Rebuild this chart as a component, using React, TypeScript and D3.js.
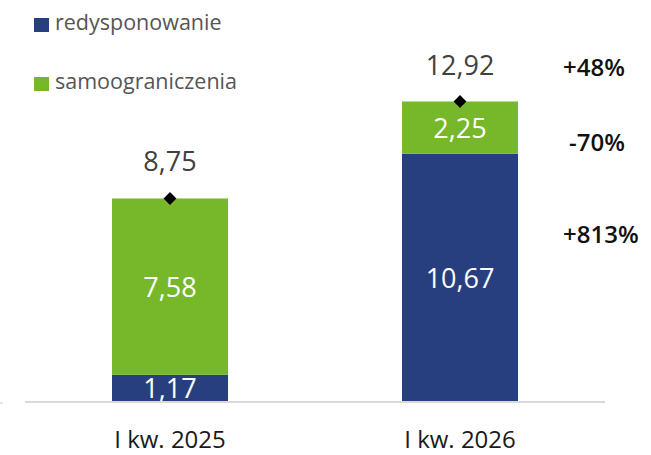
import React from "react";
import * as d3 from "d3";

const categories = ["I kw. 2025", "I kw. 2026"];
const redysponowanie = [1.17, 10.67];
const samoograniczenia = [7.58, 2.25];
const totals = [8.75, 12.92];
const seriesNames = ["redysponowanie", "samoograniczenia"];
const changeLabels = ["+48%", "-70%", "+813%"];

const W = 651, H = 455;
const BLUE = "#283F7F";
const GREEN = "#76B82A";
const FONT = "'Open Sans', 'Noto Sans', sans-serif";

export default function App() {
  const baseY = 402;
  const x = d3.scaleBand().domain(categories).range([25, 605]).paddingInner(0.6).paddingOuter(0.3);
  const y = d3.scaleLinear().domain([0, 12.92]).range([baseY, 101.5]);
  const fmt = (v: number) => v.toFixed(2).replace(".", ",");
  const bw = x.bandwidth();
  const changeY = [
    y(totals[1]) - 26,
    y(redysponowanie[1] + samoograniczenia[1] / 2) + 23,
    y(redysponowanie[1] / 2) - 35,
  ];
  const changeX = [563, 569, 563];
  return (
    <div style={{ position: "absolute", left: 0, top: 0, width: W, height: H }}>
      <svg width={W} height={H} style={{ display: "block" }} fontFamily={FONT}>
        <rect width={W} height={H} fill="#fff" />
        {seriesNames.map((n, i) => (
          <g key={n} transform={`translate(34, ${18 + i * 59})`}>
            <rect width={15} height={14} fill={i === 0 ? BLUE : GREEN} />
            <text x={21} y={12} fontSize={21.5} fill="#555">{n}</text>
          </g>
        ))}
        {categories.map((c, i) => {
          const x0 = x(c)!;
          const cx = x0 + bw / 2;
          const b0 = 0, b1 = redysponowanie[i], t = b1 + samoograniczenia[i];
          return (
            <g key={c}>
              <rect x={x0} y={y(b1)} width={bw} height={y(b0) - y(b1)} fill={BLUE} />
              <rect x={x0} y={y(t)} width={bw} height={y(b1) - y(t)} fill={GREEN} />
              <text x={cx} y={(y(b0) + y(b1)) / 2 + 10} textAnchor="middle" fontSize={27} fill="#fff">{fmt(redysponowanie[i])}</text>
              <text x={cx} y={(y(b1) + y(t)) / 2 + 10} textAnchor="middle" fontSize={27} fill="#fff">{fmt(samoograniczenia[i])}</text>
              <path d={d3.symbol(d3.symbolDiamond2, 105)()!} transform={`translate(${cx},${y(totals[i])})`} fill="#000" />
              <text x={cx} y={y(totals[i]) - 27} textAnchor="middle" fontSize={27} fill="#404040">{fmt(totals[i])}</text>
              <text x={cx} y={448} textAnchor="middle" fontSize={24} fill="#1a1a1a">{c}</text>
            </g>
          );
        })}
        <line x1={25} x2={605} y1={baseY} y2={baseY} stroke="#d9d9d9" strokeWidth={2} />
        <line x1={0} x2={3} y1={403} y2={403} stroke="#ccc" strokeWidth={1} />
        {changeLabels.map((l, i) => (
          <text key={l} x={changeX[i]} y={changeY[i]} fontSize={24} fontWeight={600} fill="#111">{l}</text>
        ))}
      </svg>
    </div>
  );
}
